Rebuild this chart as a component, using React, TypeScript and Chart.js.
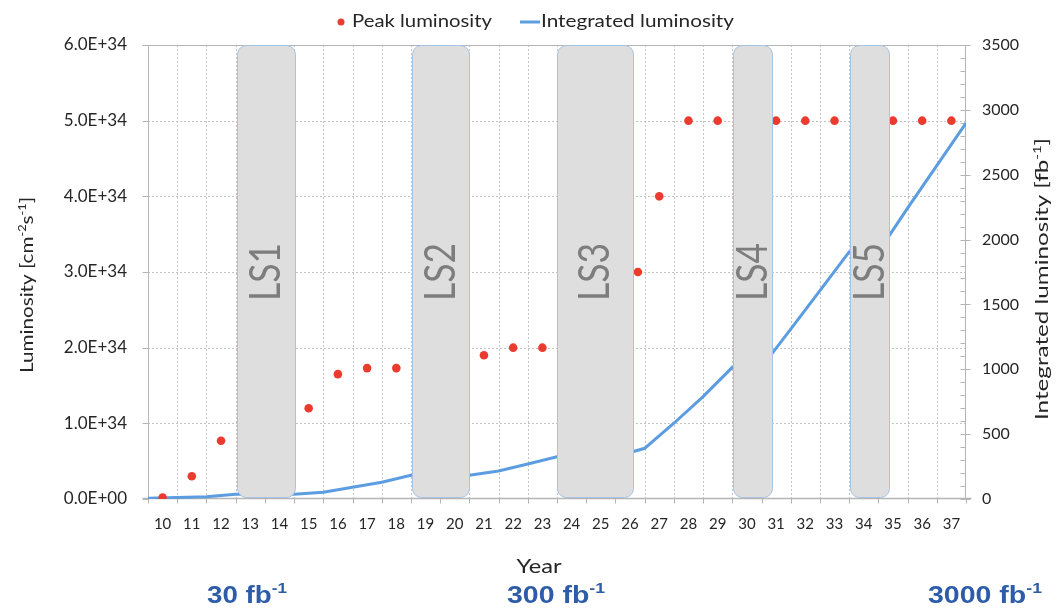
import { useEffect, useRef } from "react";
import { Chart, registerables } from "chart.js";

Chart.register(...registerables);

// Calendar years 2010–2037, labelled with two digits
const years = [10, 11, 12, 13, 14, 15, 16, 17, 18, 19, 20, 21, 22, 23, 24, 25, 26, 27, 28, 29, 30, 31, 32, 33, 34, 35, 36, 37];

// Peak instantaneous luminosity of each running year [cm^-2 s^-1]
const peakYears = [10, 11, 12, 15, 16, 17, 18, 21, 22, 23, 26.27, 27, 28, 29, 31, 32, 33, 35, 36, 37];
const peakLuminosity = [
  0.02e34, 0.3e34, 0.77e34, 1.2e34, 1.65e34, 1.73e34, 1.73e34, 1.9e34, 2.0e34, 2.0e34,
  3.0e34, 4.0e34, 5.0e34, 5.0e34, 5.0e34, 5.0e34, 5.0e34, 5.0e34, 5.0e34, 5.0e34,
];

// Integrated luminosity reached at the end of each year [fb^-1]
const integratedYears = [9, 10, 11, 12, 13, 14, 15, 16, 17, 18, 19, 20, 21, 22, 23, 24, 25, 26, 27, 28, 29, 30, 31, 32, 33, 34, 35, 36, 37];
const integratedLuminosity = [
  5, 12, 18, 36, 36, 36, 52, 90, 129, 183, 183, 183, 216, 270, 326, 326, 326, 391,
  584, 789, 1015, 1015, 1309, 1607, 1905, 1905, 2242, 2570, 2898,
];

// Long shutdowns: name and the span of years they cover
const shutdownLabels = ["LS1", "LS2", "LS3", "LS4", "LS5"];
const shutdownStart = [12.55, 18.55, 23.51, 29.53, 33.54];
const shutdownEnd = [14.53, 20.5, 26.11, 30.87, 34.85];

// Luminosity milestones written under the axis
const milestoneValues = ["30", "300", "3000"];

// Axis ranges and steps
const peakAxisMax = 6e34;
const peakAxisStep = 1e34;
const integratedAxisMax = 3500;
const integratedAxisStep = 500;
const integratedMinorStep = 100;

const FONT = "Lato, 'Open Sans', sans-serif";
const TEXT = "#262626";
const RED = "#eb3a2e";
const BLUE = "#5b9de0";
const GRID = "#c4c4c4";
const AXIS = "#b5b5b5";
const BOX_FILL = "#dedede";
const BOX_EDGE = "#a7c4e6";
const LS_TEXT = "#7d7d7d";
const MILESTONE = "#2d5ca8";

const W = 1057;
const H = 608;

type Seg = [string, boolean?];

function richWidth(ctx: CanvasRenderingContext2D, segs: Seg[], size: number, weight: string, family: string) {
  let w = 0;
  for (const [t, sup] of segs) {
    ctx.font = `${weight} ${sup ? size * 0.62 : size}px ${family}`;
    w += ctx.measureText(t).width;
  }
  return w;
}

function drawRich(
  ctx: CanvasRenderingContext2D,
  segs: Seg[],
  o: { x: number; y: number; size: number; color: string; weight?: string; family?: string; align?: "left" | "center"; angle?: number; width?: number }
) {
  const weight = o.weight ?? "normal";
  const family = o.family ?? FONT;
  ctx.save();
  ctx.translate(o.x, o.y);
  if (o.angle) ctx.rotate(o.angle);
  const natural = richWidth(ctx, segs, o.size, weight, family);
  const sx = o.width ? o.width / natural : 1;
  ctx.scale(sx, 1);
  let cx = o.align === "left" ? 0 : -natural / 2;
  ctx.fillStyle = o.color;
  ctx.textBaseline = "middle";
  ctx.textAlign = "left";
  for (const [t, sup] of segs) {
    const s = sup ? o.size * 0.62 : o.size;
    ctx.font = `${weight} ${s}px ${family}`;
    ctx.fillText(t, cx, sup ? -o.size * 0.34 : 0);
    cx += ctx.measureText(t).width;
  }
  ctx.restore();
}

function sci(v: number) {
  if (v === 0) return "0.0E+00";
  const e = Math.floor(Math.log10(Math.abs(v)) + 1e-9);
  const m = v / Math.pow(10, e);
  return m.toFixed(1) + "E+" + String(e).padStart(2, "0");
}

function seg(ctx: CanvasRenderingContext2D, x1: number, y1: number, x2: number, y2: number) {
  ctx.beginPath();
  ctx.moveTo(x1, y1);
  ctx.lineTo(x2, y2);
  ctx.stroke();
}

const decor = {
  id: "decor",
  beforeDatasetsDraw(chart: any) {
    const { ctx, chartArea: a, scales } = chart;
    const x = scales.x;
    const y = scales.y;
    const y2 = scales.y2;
    ctx.save();
    ctx.lineWidth = 1;

    // dotted grid: one line per peak-luminosity step and per year boundary
    ctx.strokeStyle = GRID;
    ctx.setLineDash([2, 2]);
    for (let v = peakAxisStep; v < peakAxisMax - 1; v += peakAxisStep) {
      const py = Math.round(y.getPixelForValue(v)) + 0.5;
      seg(ctx, a.left, py, a.right, py);
    }
    for (const yr of years.slice(0, -1)) {
      const px = Math.round(x.getPixelForValue(yr + 0.5)) + 0.5;
      seg(ctx, px, a.top, px, a.bottom);
    }
    ctx.setLineDash([]);

    // frame
    ctx.strokeStyle = AXIS;
    const L = Math.round(a.left) + 0.5;
    const R = Math.round(a.right) - 0.5;
    const T = Math.round(a.top) + 0.5;
    const B = Math.round(a.bottom) - 0.5;
    seg(ctx, L, T, R, T);
    seg(ctx, L, T, L, B + 1);
    seg(ctx, R, T, R, B + 1);
    ctx.lineWidth = 1.5;
    seg(ctx, L - 6, B, R + 6, B);
    ctx.lineWidth = 1;

    // tick marks
    for (let v = 0; v <= peakAxisMax + 1; v += peakAxisStep) {
      const py = Math.round(y.getPixelForValue(v)) + 0.5;
      seg(ctx, L - 6, py, L, py);
    }
    for (const yr of [years[0] - 1, ...years]) {
      const px = Math.round(x.getPixelForValue(yr + 0.5)) + 0.5;
      seg(ctx, px, B, px, B + 5);
    }
    for (let v = 0; v <= integratedAxisMax; v += integratedMinorStep) {
      const py = Math.round(y2.getPixelForValue(v)) + 0.5;
      seg(ctx, R - 5, py, R, py);
      if (v % integratedAxisStep === 0) seg(ctx, R, py, R + 5, py);
    }
    ctx.restore();
  },
  afterDatasetsDraw(chart: any) {
    const { ctx, chartArea: a, scales } = chart;
    const x = scales.x;
    ctx.save();
    const midY = (a.top + a.bottom) / 2;
    shutdownLabels.forEach((label, i) => {
      const x0 = Math.round(x.getPixelForValue(shutdownStart[i])) + 0.5;
      const x1 = Math.round(x.getPixelForValue(shutdownEnd[i])) + 0.5;
      ctx.beginPath();
      ctx.roundRect(x0, Math.round(a.top) + 0.5, x1 - x0, Math.round(a.bottom - a.top) - 2, 9);
      ctx.fillStyle = BOX_FILL;
      ctx.fill();
      ctx.strokeStyle = BOX_EDGE;
      ctx.lineWidth = 1;
      ctx.stroke();
      drawRich(ctx, [[label]], { x: (x0 + x1) / 2, y: midY, size: 42, color: LS_TEXT, angle: -Math.PI / 2, width: 58 });
    });
    ctx.restore();
  },
  afterDraw(chart: any) {
    const { ctx, chartArea: a } = chart;
    ctx.save();
    const midY = (a.top + a.bottom) / 2;

    // legend
    ctx.fillStyle = RED;
    ctx.beginPath();
    ctx.arc(341, 22, 3.5, 0, Math.PI * 2);
    ctx.fill();
    drawRich(ctx, [["Peak luminosity"]], { x: 352, y: 22, size: 17, color: TEXT, align: "left", width: 140 });
    ctx.strokeStyle = BLUE;
    ctx.lineWidth = 3;
    seg(ctx, 520, 22, 540, 22);
    drawRich(ctx, [["Integrated luminosity"]], { x: 541, y: 22, size: 17, color: TEXT, align: "left", width: 193 });

    // axis titles
    drawRich(ctx, [["Luminosity [cm"], ["-2", true], ["s"], ["-1", true], ["]"]], {
      x: 28, y: midY + 13, size: 17, color: TEXT, angle: -Math.PI / 2, width: 176,
    });
    drawRich(ctx, [["Integrated luminosity [fb"], ["-1", true], ["]"]], {
      x: 1043, y: midY + 7, size: 17, color: TEXT, angle: -Math.PI / 2, width: 282,
    });
    drawRich(ctx, [["Year"]], { x: 539, y: 567, size: 19, color: TEXT, width: 45 });

    // milestones
    const milestoneX = [247, 556, 985];
    const milestoneW = [80, 98, 114];
    milestoneValues.forEach((v, i) => {
      drawRich(ctx, [[v + " fb"], ["-1", true]], {
        x: milestoneX[i], y: 597, size: 23, weight: "bold", family: "'Liberation Sans', Arial, sans-serif",
        color: MILESTONE, width: milestoneW[i],
      });
    });
    ctx.restore();
  },
};

export default function App() {
  const ref = useRef<HTMLCanvasElement | null>(null);

  useEffect(() => {
    if (!ref.current) return;
    const chart = new Chart(ref.current, {
      type: "scatter",
      data: {
        datasets: [
          {
            label: "Peak luminosity",
            data: peakYears.map((yr, i) => ({ x: yr, y: peakLuminosity[i] })),
            yAxisID: "y",
            backgroundColor: RED,
            borderColor: RED,
            pointRadius: 4.3,
            pointBorderWidth: 0,
            showLine: false,
            order: 1,
          },
          {
            label: "Integrated luminosity",
            data: integratedYears.map((yr, i) => ({ x: yr + 0.5, y: integratedLuminosity[i] })),
            yAxisID: "y2",
            borderColor: BLUE,
            backgroundColor: BLUE,
            borderWidth: 3,
            pointRadius: 0,
            showLine: true,
            tension: 0,
            order: 2,
          },
        ],
      },
      options: {
        responsive: false,
        animation: false,
        devicePixelRatio: 1,
        layout: { padding: { top: 45, left: 0, right: 0, bottom: 0 } },
        plugins: { legend: { display: false }, tooltip: { enabled: false } },
        scales: {
          x: {
            type: "linear",
            min: years[0] - 0.5,
            max: years[years.length - 1] + 0.5,
            afterBuildTicks: (s: any) => {
              s.ticks = years.map((v) => ({ value: v }));
            },
            afterFit: (s: any) => {
              s.height = 109;
            },
            ticks: {
              autoSkip: false,
              maxRotation: 0,
              padding: 16,
              color: TEXT,
              font: { family: FONT, size: 15 },
              callback: (v: any) => String(v),
            },
            grid: { display: false, drawTicks: false },
            border: { display: false },
          },
          y: {
            position: "left",
            min: 0,
            max: peakAxisMax,
            ticks: {
              stepSize: peakAxisStep,
              padding: 21,
              color: TEXT,
              font: { family: FONT, size: 17 },
              callback: (v: any) => sci(Number(v)),
            },
            afterFit: (s: any) => {
              s.width = 148;
            },
            grid: { display: false, drawTicks: false },
            border: { display: false },
          },
          y2: {
            position: "right",
            min: 0,
            max: integratedAxisMax,
            ticks: {
              stepSize: integratedAxisStep,
              padding: 16,
              color: TEXT,
              font: { family: FONT, size: 16 },
              callback: (v: any) => String(v),
            },
            afterFit: (s: any) => {
              s.width = W - 966;
            },
            grid: { display: false, drawTicks: false },
            border: { display: false },
          },
        },
      },
      plugins: [decor],
    } as any);
    return () => chart.destroy();
  }, []);

  return (
    <div style={{ position: "absolute", left: 0, top: 0, width: W, height: H, background: "#fff" }}>
      <canvas ref={ref} width={W} height={H} style={{ display: "block" }} />
    </div>
  );
}
